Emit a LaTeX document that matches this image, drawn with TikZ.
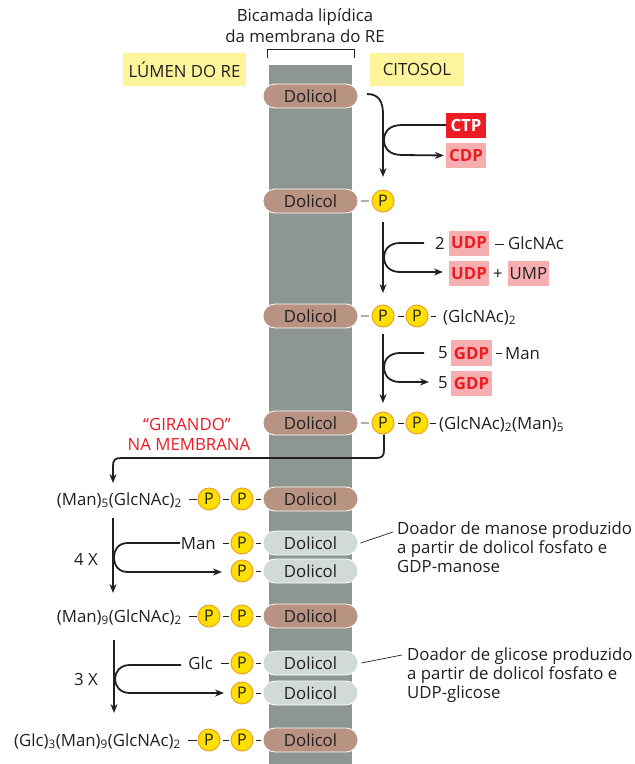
\documentclass[tikz,border=0pt]{standalone}
\usepackage{fontspec}
\setmainfont{Open Sans}
\usetikzlibrary{shapes.misc,arrows.meta}
\definecolor{memgray}{RGB}{141,150,145}
\definecolor{dolbrown}{RGB}{184,147,130}
\definecolor{dollight}{RGB}{209,218,213}
\definecolor{pyellow}{RGB}{255,224,0}
\definecolor{porange}{RGB}{240,160,40}
\definecolor{lblyellow}{RGB}{252,245,155}
\definecolor{tred}{RGB}{237,28,36}
\definecolor{tpink}{RGB}{246,175,176}
\definecolor{txt}{RGB}{35,31,32}
\newcommand\fs{\fontsize{16.8}{19}\selectfont}
\newcommand\lsub[1]{\textsubscript{#1}}
\begin{document}
\begin{tikzpicture}[x=1pt,y=-1pt,
  every node/.style={text=txt},
  lbl/.style={font=\fs, inner sep=0pt},
  dolb/.style={rounded rectangle, minimum width=95pt, minimum height=24pt, inner sep=0pt, fill=dolbrown, draw=white, line width=0.8pt, font=\fs},
  doll/.style={dolb, fill=dollight},
  pc/.style={circle, minimum size=22pt, inner sep=0pt, fill=pyellow, draw=porange, line width=1pt, font=\fontsize{16}{16}\selectfont},
  bond/.style={line width=0.9pt, draw=txt},
  arr/.style={line width=1.8pt, draw=txt, -{Stealth[length=9pt,width=7pt]}},
  ybox/.style={fill=lblyellow, minimum height=33pt, inner sep=0pt, font=\fs},
  rbox/.style={fill=tred, text=white, minimum width=40pt, minimum height=25pt, inner sep=0pt, font=\fs\bfseries},
  pbox/.style={fill=tpink, text=tred, minimum width=40pt, minimum height=25pt, inner sep=0pt, font=\fs\bfseries},
  callout/.style={line width=0.7pt, draw=txt}
]
\useasboundingbox (0,0) rectangle (635,764);
\fill[white] (0,0) rectangle (635,764);
% membrane
\fill[memgray] (269,65) rectangle (352,764);
\draw[line width=0.8pt, txt] (267,58) -- (267,49) -- (354,49) -- (354,58);
\node[lbl] (t1) at (305,17) {Bicamada lipídica};
\node[lbl] (t2) at (305,36) {da membrana do RE};
\node[ybox, minimum width=123pt] (lumen) at (184.5,69.5) {LÚMEN DO RE};
\node[ybox, minimum width=94pt] (cit) at (417,69.5) {CITOSOL};

% row 1
\node[dolb] (d1) at (310.5,96) {Dolicol};
% row 2
\node[dolb] (d2) at (310.5,201) {Dolicol};
\node[pc] (p2) at (383,201) {P};
\draw[bond, shorten <=2.5pt, shorten >=2.5pt] (d2) -- (p2);
% row 3
\node[dolb] (d3) at (310.5,316) {Dolicol};
\node[pc] (p3a) at (383,316) {P};
\node[pc] (p3b) at (417,316) {P};
\node[lbl, anchor=base west] (g3) at (443,322) {(GlcNAc)\lsub{2}};
\draw[bond, shorten <=2.5pt, shorten >=2.5pt] (d3) -- (p3a);
\draw[bond, shorten <=3pt, shorten >=1.5pt] (p3a) -- (p3b);
\draw[bond, shorten <=2pt, shorten >=7pt] (p3b.east) -- (g3.west|-p3b);
% row 4
\node[dolb] (d4) at (310.5,423) {Dolicol};
\node[pc] (p4a) at (383,423) {P};
\node[pc] (p4b) at (417,423) {P};
\node[lbl, anchor=base west] (g4) at (439,429) {(GlcNAc)\lsub{2}(Man)\lsub{5}};
\draw[bond, shorten <=2.5pt, shorten >=2.5pt] (d4) -- (p4a);
\draw[bond, shorten <=3pt, shorten >=1.5pt] (p4a) -- (p4b);
\draw[bond, shorten <=1pt, shorten >=3pt] (p4b.east) -- (g4.west|-p4b);
% row 5
\node[dolb] (d5) at (310.5,499) {Dolicol};
\node[pc] (p5b) at (242,499) {P};
\node[pc] (p5a) at (209,499) {P};
\node[lbl, anchor=base east] (g5) at (182,505) {(Man)\lsub{5}(GlcNAc)\lsub{2}};
\draw[bond, shorten <=1.5pt, shorten >=2pt] (d5) -- (p5b);
\draw[bond, shorten <=2pt, shorten >=2pt] (p5b) -- (p5a);
\draw[bond, shorten <=1pt, shorten >=7pt] (p5a.west) -- (g5.east|-p5a);
% row 6
\node[doll] (d6) at (310.5,543) {Dolicol};
\node[pc] (p6) at (242,543) {P};
\node[lbl, anchor=base east] (m6) at (216,549) {Man};
\draw[bond, shorten <=1.5pt, shorten >=2pt] (d6) -- (p6);
\draw[bond, shorten <=2pt, shorten >=7pt] (p6.west) -- (m6.east|-p6);
% row 7
\node[doll] (d7) at (310.5,571) {Dolicol};
\node[pc] (p7) at (242,571) {P};
\draw[bond, shorten <=1.5pt, shorten >=2pt] (d7) -- (p7);
% row 8
\node[dolb] (d8) at (310.5,616) {Dolicol};
\node[pc] (p8b) at (242,616) {P};
\node[pc] (p8a) at (209,616) {P};
\node[lbl, anchor=base east] (g8) at (182,622) {(Man)\lsub{9}(GlcNAc)\lsub{2}};
\draw[bond, shorten <=1.5pt, shorten >=2pt] (d8) -- (p8b);
\draw[bond, shorten <=2pt, shorten >=2pt] (p8b) -- (p8a);
\draw[bond, shorten <=1pt, shorten >=7pt] (p8a.west) -- (g8.east|-p8a);
% row 9
\node[doll] (d9) at (310.5,663) {Dolicol};
\node[pc] (p9) at (242,663) {P};
\node[lbl, anchor=base east] (m9) at (213,669) {Glc};
\draw[bond, shorten <=1.5pt, shorten >=2pt] (d9) -- (p9);
\draw[bond, shorten <=2pt, shorten >=8pt] (p9.west) -- (m9.east|-p9);
% row 10
\node[doll] (d10) at (310.5,693) {Dolicol};
\node[pc] (p10) at (242,693) {P};
\draw[bond, shorten <=1.5pt, shorten >=2pt] (d10) -- (p10);
% row 11
\node[dolb] (d11) at (310.5,740) {Dolicol};
\node[pc] (p11b) at (242,740) {P};
\node[pc] (p11a) at (209,740) {P};
\node[lbl, anchor=base east] (g11) at (181,746) {(Glc)\lsub{3}(Man)\lsub{9}(GlcNAc)\lsub{2}};
\draw[bond, shorten <=1.5pt, shorten >=2pt] (d11) -- (p11b);
\draw[bond, shorten <=2pt, shorten >=2pt] (p11b) -- (p11a);
\draw[bond, shorten <=1pt, shorten >=7pt] (p11a.west) -- (g11.east|-p11a);

% step 1: CTP / CDP
\node[rbox] (ctp) at (466,125) {CTP};
\node[pbox] (cdp) at (466,155.5) {CDP};
\coordinate (a1s) at (367,94);
\coordinate (a1e) at (383,177);
\draw[arr] (a1s) .. controls (379,94) and (383,102) .. (383,114) -- (a1e);
\draw[arr, shorten >=2pt] (ctp.west) -- (402,125) .. controls (389,125) and (384,132) .. (384,140) .. controls (384,148) and (389,155) .. (402,155) -- (cdp.west);

% step 2: UDP-GlcNAc
\node[pbox] (udp1) at (469,243) {UDP};
\node[lbl] (n2) at (440,243) {2};
\node[lbl, anchor=base west] (glcnac) at (508,249) {GlcNAc};
\draw[bond] (495,244) -- (504,244);
\node[pbox] (udp2) at (469,273.5) {UDP};
\node[lbl] (plus) at (498,274) {+};
\node[pbox, text=txt, font=\fs, minimum width=41pt] (ump) at (528.5,273.5) {UMP};
\coordinate (a2s) at (383,222);
\coordinate (a2e) at (383,293);
\coordinate (b2s) at (424,243);
\coordinate (b2e) at (443,272);
\draw[arr] (a2s) -- (a2e);
\draw[arr] (b2s) -- (400,243) .. controls (389,243) and (384,250) .. (384,257) .. controls (384,265) and (389,272) .. (400,272) -- (b2e);

% step 3: GDP-Man
\node[pbox, minimum width=41pt, minimum height=26pt] (gdp1) at (471.5,353) {GDP};
\node[lbl] (n5a) at (443,353) {5};
\node[lbl, anchor=base west] (man3) at (505,359) {Man};
\draw[bond] (496,353) -- (502,353);
\node[pbox, minimum width=41pt] (gdp2) at (471.5,383.5) {GDP};
\node[lbl] (n5b) at (443,383) {5};
\coordinate (a3s) at (383,334);
\coordinate (a3e) at (383,403);
\coordinate (b3s) at (424,353);
\coordinate (b3e) at (429,382);
\draw[arr] (a3s) -- (a3e);
\draw[arr] (b3s) -- (400,353) .. controls (389,353) and (384,360) .. (384,367) .. controls (384,375) and (389,382) .. (400,382) -- (b3e);

% flip
\node[lbl, text=tred] (gir1) at (187,424) {“GIRANDO”};
\node[lbl, text=tred] (gir2) at (189,444) {NA MEMBRANA};
\coordinate (fe) at (113,483);
\draw[arr] (p4a.south) ++(1,0) -- (384,450) .. controls (384,456) and (382,458) .. (376,458) -- (121,458) .. controls (115,458) and (113,460) .. (113,466) -- (fe);

% 4 X
\node[lbl] (x4) at (86,559) {4 X};
\coordinate (a4s) at (113,518);
\coordinate (a4e) at (113,593);
\coordinate (b4s) at (180,543);
\coordinate (b4e) at (222,572);
\draw[arr] (a4s) -- (a4e);
\draw[arr] (b4s) -- (128,543) .. controls (118,543) and (114,550) .. (114,557) .. controls (114,565) and (118,572) .. (128,572) -- (b4e);

% 3 X
\node[lbl] (x3) at (86,679) {3 X};
\coordinate (a5s) at (114,640);
\coordinate (a5e) at (114,713);
\coordinate (b5s) at (181,665);
\coordinate (b5e) at (224,693);
\draw[arr] (a5s) -- (a5e);
\draw[arr] (b5s) -- (130,665) .. controls (120,665) and (115,672) .. (115,679) .. controls (115,686) and (120,693) .. (130,693) -- (b5e);

% callouts
\node[lbl, anchor=north west, align=left] (c1) at (397,522) {Doador de manose produzido\\a partir de dolicol fosfato e\\GDP-manose};
\node[lbl, anchor=north west, align=left] (c2) at (407,648) {Doador de glicose produzido\\a partir de dolicol fosfato e\\UDP-glicose};
\draw[callout] ([xshift=2pt]d6.east) -- (393,532);
\draw[callout] ([xshift=3pt]d9.east) -- (402,655);
\end{tikzpicture}
\end{document}
